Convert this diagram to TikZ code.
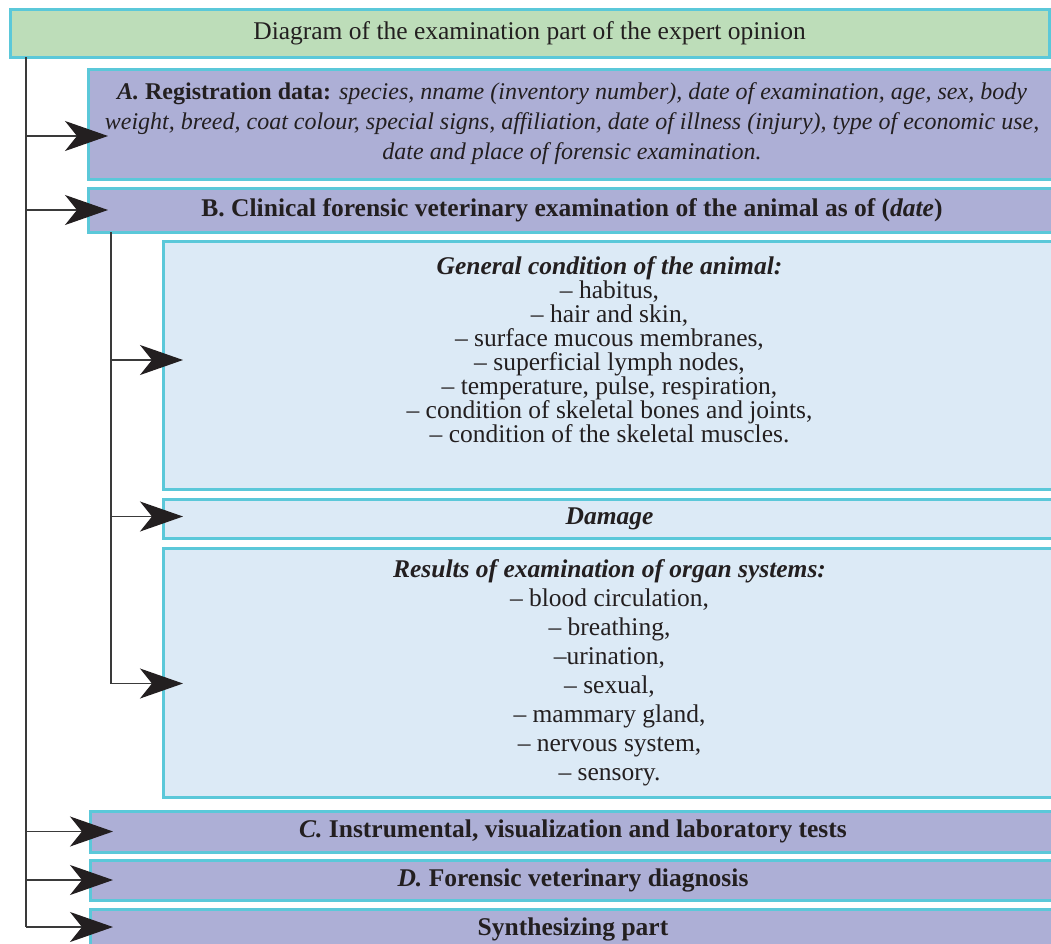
\documentclass[tikz,border=0pt]{standalone}
\usepackage{fontspec}
\setmainfont{Liberation Serif}
\usetikzlibrary{arrows.meta,positioning}

\definecolor{headgreen}{HTML}{BDDDB9}
\definecolor{mainviolet}{HTML}{ADAFD6}
\definecolor{subblue}{HTML}{DCEAF6}
\definecolor{boxline}{HTML}{5BC8D9}
\definecolor{inkblack}{HTML}{231F20}
\definecolor{linegray}{HTML}{3A3A3A}

\tikzset{
  box/.style={draw=boxline, line width=3pt, inner sep=0pt, outer sep=0pt,
    anchor=north west, align=center, text=inkblack,
    font=\fontsize{25.5}{24}\selectfont},
  headbox/.style={box, fill=headgreen, minimum width=1039pt, minimum height=48pt},
  mainbox/.style={box, fill=mainviolet, minimum width=968pt},
  subbox/.style={box, fill=subblue, minimum width=893pt},
  trunk/.style={draw=linegray, line width=1.3pt},
  branch/.style={trunk, -{Stealth[length=43pt,width=30pt,inset=12pt,color=inkblack]}}
}

\begin{document}
\begin{tikzpicture}[x=1pt,y=-1pt]
    \useasboundingbox (0,0) rectangle (1051,943);

    \node[headbox] (title) at (10,9) {Diagram of the examination part of the expert opinion};

    \node[mainbox, minimum height=110pt, font=\fontsize{24}{30}\selectfont] (regA) at (88,69)
    {\textbf{\textit{A.} Registration data:} \textit{species, nname (inventory number), date of examination, age, sex, body}\\
     \textit{weight, breed, coat colour, special signs, affiliation, date of illness (injury), type of economic use,}\\
     \textit{date and place of forensic examination.}};
    \node[mainbox, minimum height=44pt] (clinB) at (88,188)
    {\textbf{B. Clinical forensic veterinary examination of the animal as of (\textit{date})}};

    \node[subbox, minimum height=248pt] (general) at (163,241)
    {\textbf{\textit{General condition of the animal:}}\\
     -- habitus,\\
     -- hair and skin,\\
     -- surface mucous membranes,\\
     -- superficial lymph nodes,\\
     -- temperature, pulse, respiration,\\
     -- condition of skeletal bones and joints,\\
     -- condition of the skeletal muscles.\\[6pt]};
    \node[subbox, minimum height=39pt] (damage) at (163,499) {\textbf{\textit{Damage}}};
    \node[subbox, minimum height=249pt, font=\fontsize{25.5}{29}\selectfont] (results) at (163,548)
    {\textbf{\textit{Results of examination of organ systems:}}\\
     -- blood circulation,\\
     -- breathing,\\
     --urination,\\
     -- sexual,\\
     -- mammary gland,\\
     -- nervous system,\\
     -- sensory.};

    \node[mainbox, minimum width=966pt, minimum height=41pt] (instrC) at (90,811)
    {\textbf{\textit{C.} Instrumental, visualization and laboratory tests}};
    \node[mainbox, minimum width=966pt, minimum height=40pt] (diagD) at (90,860)
    {\textbf{\textit{D.} Forensic veterinary diagnosis}};
    \node[mainbox, minimum width=966pt, minimum height=40pt] (synth) at (90,909)
    {\textbf{Synthesizing part}};

    % spines
    \coordinate (spine) at (26,57);
    \coordinate (subspine) at (111,232);
    \draw[trunk] (title.south -| spine) -- ([yshift=2pt]synth.west -| spine);
    \draw[trunk] (clinB.south -| subspine) -- ([yshift=-11pt]results.west -| subspine);

    % branches
    \draw[branch] ([yshift=-12pt]regA.west -| spine) -- ([xshift=20pt,yshift=-12pt]regA.west);
    \draw[branch] (clinB.west -| spine) -- ([xshift=20pt]clinB.west);
    \draw[branch] ([yshift=5pt]general.west -| subspine) -- ([xshift=20pt,yshift=5pt]general.west);
    \draw[branch] ([yshift=2pt]damage.west -| subspine) -- ([xshift=20pt,yshift=2pt]damage.west);
    \draw[branch] ([yshift=-11pt]results.west -| subspine) -- ([xshift=20pt,yshift=-11pt]results.west);
    \draw[branch] (instrC.west -| spine) -- ([xshift=23pt]instrC.west);
    \draw[branch] (diagD.west -| spine) -- ([xshift=23pt]diagD.west);
    \draw[branch] ([yshift=2pt]synth.west -| spine) -- ([xshift=23pt,yshift=2pt]synth.west);
\end{tikzpicture}
\end{document}
